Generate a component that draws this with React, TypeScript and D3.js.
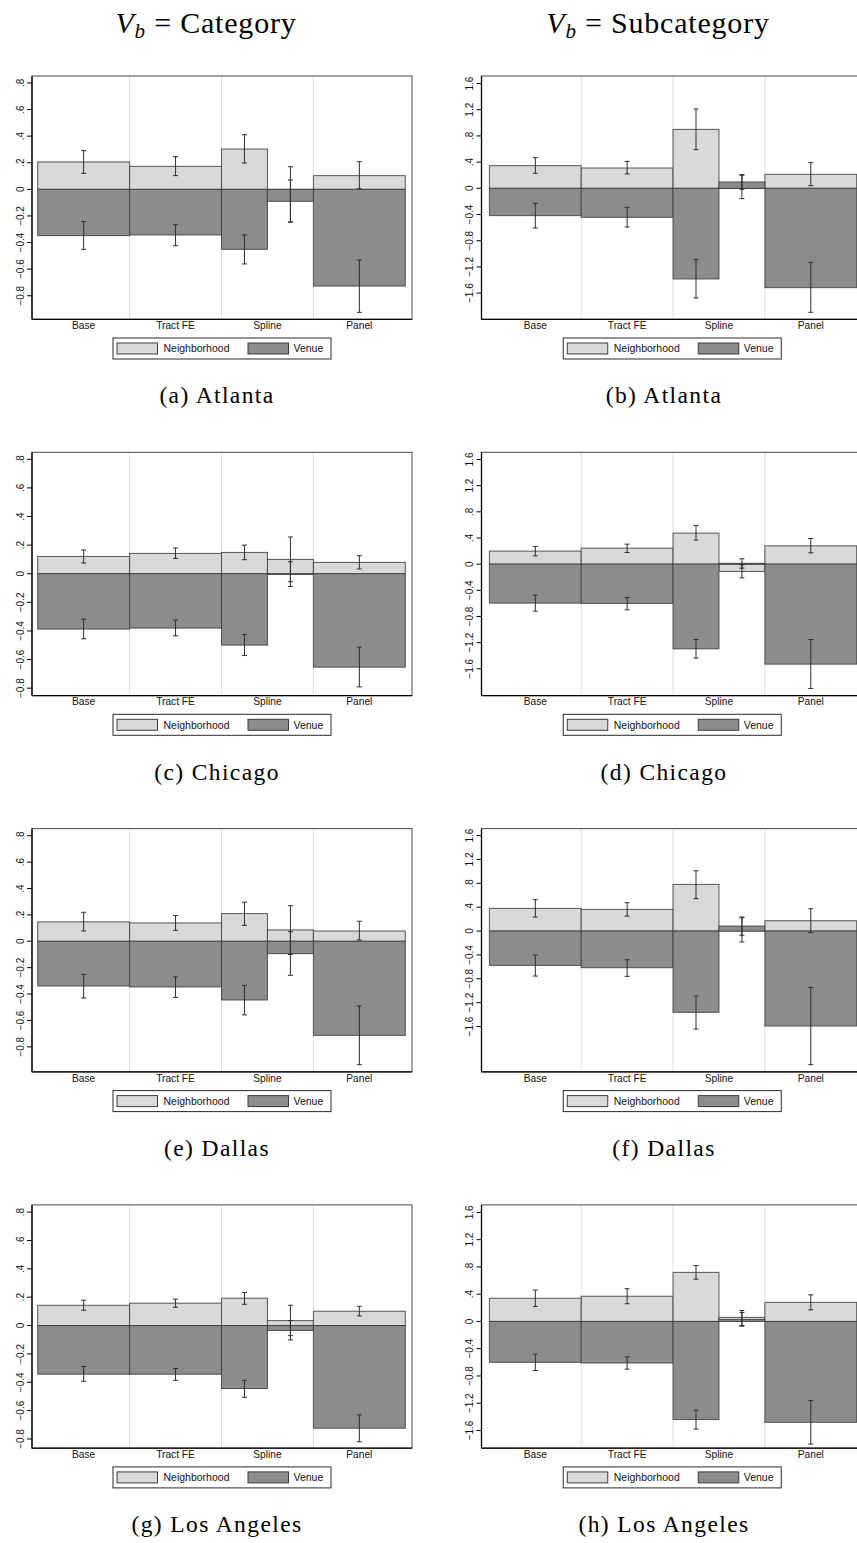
import React from "react";
import * as d3 from "d3";

// ---------- data ----------
const columnHeaders = ["Category", "Subcategory"];
const panelLetters = ["a", "b", "c", "d", "e", "f", "g", "h"];
const panelCities = ["Atlanta", "Atlanta", "Chicago", "Chicago", "Dallas", "Dallas", "Los Angeles", "Los Angeles"];
const categories = ["Base", "Tract FE", "Spline", "Panel"];
// five bar slots: Base, Tract FE, Spline (1st piece), Spline (2nd piece), Panel  (in category units)
const slotStart = [0, 1, 2, 2.5, 3];
const slotEnd = [1, 2, 2.5, 3, 4];
const legendLabels = ["Neighborhood", "Venue"];
const leftTicks = [-0.8, -0.6, -0.4, -0.2, 0, 0.2, 0.4, 0.6, 0.8];
const rightTicks = [-1.6, -1.2, -0.8, -0.4, 0, 0.4, 0.8, 1.2, 1.6];
const yDomains = [
  [-0.977, 0.852], [-2.0, 1.715],
  [-0.852, 0.849], [-2.01, 1.71],
  [-0.99, 0.854], [-2.36, 1.717],
  [-0.865, 0.851], [-1.86, 1.71],
];

const nbhdEst = [
  [0.206, 0.173, 0.303, -0.04, 0.103],
  [0.346, 0.31, 0.9, 0.02, 0.214],
  [0.121, 0.142, 0.149, 0.1, 0.079],
  [0.199, 0.245, 0.474, -0.112, 0.28],
  [0.147, 0.139, 0.21, 0.086, 0.078],
  [0.38, 0.363, 0.782, 0.02, 0.173],
  [0.143, 0.158, 0.193, 0.035, 0.101],
  [0.34, 0.37, 0.72, 0.06, 0.28],
];
const nbhdLo = [
  [0.12, 0.103, 0.198, -0.246, 0.005],
  [0.229, 0.219, 0.59, -0.158, 0.04],
  [0.075, 0.107, 0.098, -0.056, 0.033],
  [0.127, 0.178, 0.367, -0.21, 0.173],
  [0.078, 0.083, 0.121, -0.1, 0.01],
  [0.234, 0.251, 0.542, -0.184, -0.028],
  [0.108, 0.129, 0.15, -0.071, 0.068],
  [0.22, 0.26, 0.62, -0.06, 0.17],
];
const nbhdHi = [
  [0.291, 0.246, 0.411, 0.17, 0.208],
  [0.468, 0.412, 1.211, 0.2, 0.392],
  [0.166, 0.18, 0.2, 0.257, 0.126],
  [0.27, 0.306, 0.591, -0.01, 0.392],
  [0.22, 0.195, 0.296, 0.27, 0.152],
  [0.525, 0.475, 1.011, 0.224, 0.374],
  [0.179, 0.186, 0.233, 0.143, 0.136],
  [0.46, 0.48, 0.82, 0.16, 0.39],
];
const venueEst = [
  [-0.348, -0.343, -0.451, -0.09, -0.727],
  [-0.417, -0.443, -1.384, 0.097, -1.517],
  [-0.387, -0.38, -0.499, -0.005, -0.653],
  [-0.596, -0.601, -1.295, 0.012, -1.529],
  [-0.339, -0.346, -0.445, -0.094, -0.713],
  [-0.575, -0.614, -1.362, 0.084, -1.591],
  [-0.343, -0.343, -0.444, -0.035, -0.724],
  [-0.6, -0.61, -1.44, 0.03, -1.48],
];
const venueLo = [
  [-0.451, -0.424, -0.561, -0.246, -0.925],
  [-0.606, -0.59, -1.674, -0.015, -1.893],
  [-0.455, -0.434, -0.572, -0.089, -0.791],
  [-0.719, -0.698, -1.437, -0.061, -1.901],
  [-0.43, -0.425, -0.558, -0.258, -0.935],
  [-0.754, -0.759, -1.642, -0.07, -2.239],
  [-0.393, -0.386, -0.506, -0.101, -0.82],
  [-0.72, -0.7, -1.58, -0.07, -1.8],
];
const venueHi = [
  [-0.243, -0.266, -0.343, 0.07, -0.531],
  [-0.229, -0.29, -1.089, 0.209, -1.13],
  [-0.317, -0.324, -0.425, 0.084, -0.513],
  [-0.474, -0.51, -1.152, 0.082, -1.152],
  [-0.25, -0.27, -0.334, 0.073, -0.49],
  [-0.402, -0.48, -1.089, 0.235, -0.944],
  [-0.289, -0.303, -0.386, 0.035, -0.63],
  [-0.48, -0.52, -1.3, 0.13, -1.16],
];

// ---------- layout / style ----------
const W = 857;
const H = 1543;
const ROW0 = 76;
const ROW_STEP = 376.3;
const FRAME_H = 243.3;
const cols = [
  { axisX: 32, frameR: 412, barX0: 37.7, barX1: 405.3, header: 206, caption: 217 },
  { axisX: 481.5, frameR: 863, barX0: 489.4, barX1: 856.7, header: 658, caption: 664 },
];
const NB_FILL = "#d9d9d9";
const VE_FILL = "#8c8c8c";
const OUTLINE = "#3c3c3c";
const SANS = "'Liberation Sans', Arial, Helvetica, sans-serif";
const SERIF = "'Liberation Serif', 'Times New Roman', serif";

const fmt = (d: number) => {
  if (Math.abs(d) < 1e-9) return "0";
  const s = d3.format(".1f")(d);
  return s.replace(/^(-?)0\./, "$1.");
};

function Panel({ i }: { i: number }) {
  const col = i % 2;
  const row = Math.floor(i / 2);
  const c = cols[col];
  const top = ROW0 + row * ROW_STEP;
  const bottom = top + FRAME_H;
  const y = d3.scaleLinear().domain(yDomains[i]).range([bottom, top]);
  const x = d3.scaleLinear().domain([0, 4]).range([c.barX0, c.barX1]);
  const ticks = col === 0 ? leftTicks : rightTicks;
  const y0 = y(0);

  const bar = (v: number, s: number, fill: string, key: string) => {
    const x0 = x(slotStart[s]);
    const x1 = x(slotEnd[s]);
    const yv = y(v);
    return (
      <rect key={key} x={x0} width={x1 - x0} y={Math.min(yv, y0)} height={Math.abs(yv - y0)}
        fill={fill} stroke={OUTLINE} strokeWidth={1} strokeOpacity={0.85} />
    );
  };
  const err = (lo: number, hi: number, s: number, key: string) => {
    const cx = (x(slotStart[s]) + x(slotEnd[s])) / 2;
    const a = y(lo);
    const b = y(hi);
    return (
      <g key={key} stroke="#2e2e2e" strokeWidth={1}>
        <line x1={cx} x2={cx} y1={a} y2={b} />
        <line x1={cx - 2.5} x2={cx + 2.5} y1={a} y2={a} />
        <line x1={cx - 2.5} x2={cx + 2.5} y1={b} y2={b} />
      </g>
    );
  };

  const legW = 218;
  const legH = 21;
  const legX = (c.axisX + c.frameR) / 2 - legW / 2;
  const legY = bottom + 18.7;

  return (
    <g>
      {/* separators */}
      {[1, 2, 3].map((k) => (
        <line key={"sep" + k} x1={x(k)} x2={x(k)} y1={top} y2={bottom} stroke="#dedede" strokeWidth={1} />
      ))}
      {nbhdEst[i].map((v, s) => bar(v, s, NB_FILL, "nb" + s))}
      {venueEst[i].map((v, s) => bar(v, s, VE_FILL, "ve" + s))}
      {nbhdEst[i].map((_, s) => err(nbhdLo[i][s], nbhdHi[i][s], s, "enb" + s))}
      {venueEst[i].map((_, s) => err(venueLo[i][s], venueHi[i][s], s, "eve" + s))}
      {/* frame */}
      <rect x={c.axisX} y={top} width={c.frameR - c.axisX} height={FRAME_H} fill="none" stroke="#4a4a4a" strokeWidth={1} />
      <line x1={c.axisX} x2={c.axisX} y1={top} y2={bottom} stroke="#000" strokeWidth={1.3} />
      <line x1={c.axisX} x2={c.frameR} y1={bottom} y2={bottom} stroke="#000" strokeWidth={1.3} />
      {/* y ticks */}
      {ticks.map((t) => (
        <g key={"t" + t}>
          <line x1={c.axisX - 5} x2={c.axisX} y1={y(t)} y2={y(t)} stroke="#000" strokeWidth={1} />
          <text transform={`translate(${c.axisX - 8.5},${y(t)}) rotate(-90)`} textAnchor="middle"
            fontFamily={SANS} fontSize={10} fill="#111">{fmt(t)}</text>
        </g>
      ))}
      {/* x labels */}
      {categories.map((cat, k) => (
        <text key={"c" + k} x={(x(k) + x(k + 1)) / 2} y={bottom + 9.8} textAnchor="middle"
          fontFamily={SANS} fontSize={10.2} fill="#111">{cat}</text>
      ))}
      {/* legend */}
      <rect x={legX} y={legY} width={legW} height={legH} fill="#fff" stroke="#2a2a2a" strokeWidth={1} />
      <rect x={legX + 4} y={legY + 5} width={40.5} height={11} fill={NB_FILL} stroke={OUTLINE} strokeWidth={1} />
      <text x={legX + 50.5} y={legY + 14.3} fontFamily={SANS} fontSize={10.5} fill="#111">{legendLabels[0]}</text>
      <rect x={legX + 135} y={legY + 5} width={40.5} height={11} fill={VE_FILL} stroke={OUTLINE} strokeWidth={1} />
      <text x={legX + 180.5} y={legY + 14.3} fontFamily={SANS} fontSize={10.5} fill="#111">{legendLabels[1]}</text>
      {/* caption */}
      <text x={c.caption} y={top + 327.3} textAnchor="middle" fontFamily={SERIF} fontSize={23.5}
        letterSpacing={1.4} fill="#000">{`(${panelLetters[i]}) ${panelCities[i]}`}</text>
    </g>
  );
}

export default function App() {
  return (
    <svg width={W} height={H} viewBox={`0 0 ${W} ${H}`}
      style={{ position: "absolute", left: 0, top: 0, background: "#fff", display: "block" }}>
      <rect x={0} y={0} width={W} height={H} fill="#fff" />
      {columnHeaders.map((h, k) => (
        <text key={"h" + k} x={cols[k].header} y={33.3} textAnchor="middle" fontFamily={SERIF}
          fontSize={30} letterSpacing={0.8} fill="#000">
          <tspan fontStyle="italic">V</tspan>
          <tspan fontStyle="italic" fontSize={21} dy={5}>b</tspan>
          <tspan dy={-5}>{" = " + h}</tspan>
        </text>
      ))}
      {panelLetters.map((_, i) => (
        <Panel key={i} i={i} />
      ))}
    </svg>
  );
}
